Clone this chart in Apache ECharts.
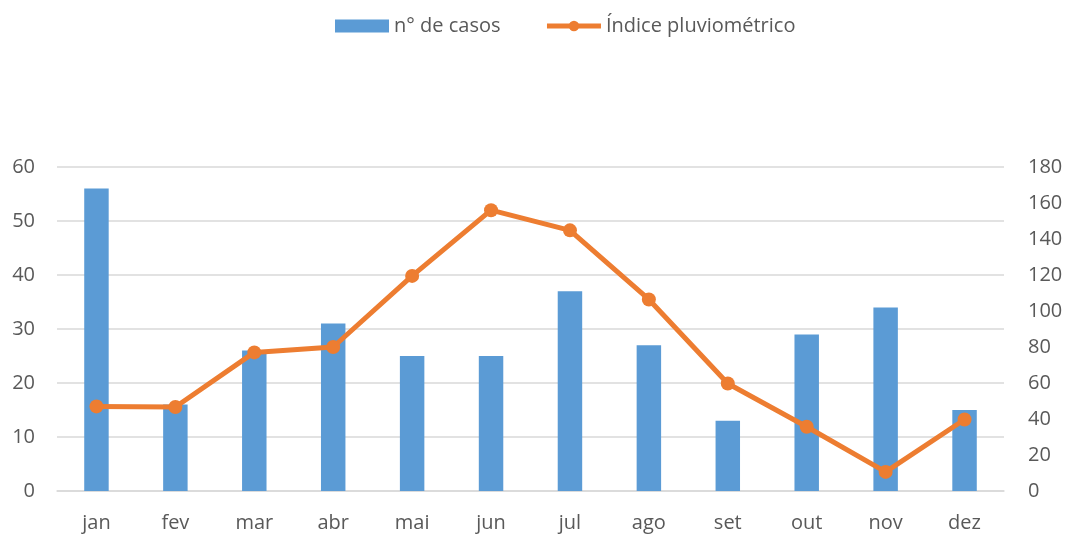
<!DOCTYPE html>
<html>
<head>
<meta charset="utf-8">
<script src="https://cdn.jsdelivr.net/npm/echarts@6/dist/echarts.min.js"></script>
<style>
  html, body { margin: 0; padding: 0; background: #fff; }
  #chart { width: 1068px; height: 535px; }
</style>
</head>
<body>
<div id="chart"></div>
<script>
// dados
const meses = ['jan', 'fev', 'mar', 'abr', 'mai', 'jun', 'jul', 'ago', 'set', 'out', 'nov', 'dez'];
const casos = [56, 16, 26, 31, 25, 25, 37, 27, 13, 29, 34, 15];
const pluviometrico = [47, 46.7, 77, 80, 119.5, 156, 144.8, 106.4, 59.7, 35.7, 10.6, 39.7];

const textColor = '#595959';
const fontFamily = '"Open Sans", "Noto Sans", sans-serif';

const chart = echarts.init(document.getElementById('chart'));
chart.setOption({
  animation: false,
  textStyle: { fontFamily: fontFamily, color: textColor },
  legend: {
    top: 11,
    left: 330,
    itemGap: 44,
    itemWidth: 54,
    itemHeight: 13,
    textStyle: { fontSize: 20, color: textColor, fontFamily: fontFamily },
    data: [
      { name: 'n° de casos', icon: 'rect' },
      { name: 'Índice pluviométrico', lineStyle: { width: 5 } }
    ]
  },
  grid: { left: 57, right: 64, top: 167, bottom: 44 },
  xAxis: {
    type: 'category',
    data: meses,
    axisLine: { lineStyle: { color: '#d9d9d9', width: 1.5 } },
    axisTick: { show: false },
    axisLabel: { color: textColor, fontSize: 20, margin: 22 }
  },
  yAxis: [
    {
      type: 'value',
      min: 0, max: 60, interval: 10,
      axisLine: { show: false },
      axisTick: { show: false },
      axisLabel: { color: textColor, fontSize: 20, margin: 22 },
      splitLine: { lineStyle: { color: '#d9d9d9', width: 1.5 } }
    },
    {
      type: 'value',
      min: 0, max: 180, interval: 20,
      axisLine: { show: false },
      axisTick: { show: false },
      axisLabel: { color: textColor, fontSize: 20, margin: 24 },
      splitLine: { show: false }
    }
  ],
  series: [
    {
      name: 'n° de casos',
      type: 'bar',
      yAxisIndex: 0,
      data: casos,
      barWidth: '31%',
      itemStyle: { color: '#5B9BD5' }
    },
    {
      name: 'Índice pluviométrico',
      type: 'line',
      yAxisIndex: 1,
      data: pluviometrico,
      symbol: 'circle',
      symbolSize: 14,
      lineStyle: { color: '#ED7D31', width: 5 },
      itemStyle: { color: '#ED7D31' }
    }
  ]
});
</script>
</body>
</html>
